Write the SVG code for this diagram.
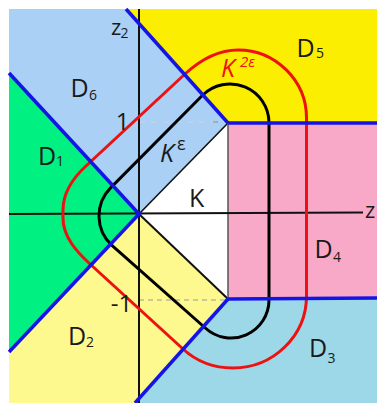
<svg xmlns="http://www.w3.org/2000/svg" width="377" height="403" viewBox="0 0 377 403">
<style>
.lbl{font-family:"Open Sans","Noto Sans",sans-serif;font-size:25px;fill:#1a1a1a}
.sub{font-size:14px}
.it{font-style:italic}
.blue{stroke:#1414e6;stroke-width:3.5;fill:none;stroke-linecap:butt}
.axis{stroke:#111;stroke-width:2;fill:none}
</style>
<rect x="0" y="0" width="377" height="403" fill="#ffffff"/>
<g id="regions">
<polygon id="D6" points="9,9 126,9 228,123 139,214 9,73" fill="#aad0f6"/>
<polygon id="D5" points="126,9 377,9 377,123 228,123" fill="#fcee00"/>
<polygon id="D4" points="228,123 377,123 377,298 228,299" fill="#f9a9c8"/>
<polygon id="D3" points="228,299 377,298 377,403 135,403" fill="#9dd8e8"/>
<polygon id="D2" points="139,214 228,299 135,403 9,403 9,352" fill="#fdf98e"/>
<polygon id="D1" points="9,73 139,214 9,352" fill="#00f082"/>
<polygon id="K" points="139,214 228,123 228,299" fill="#ffffff"/>
</g>
<g id="guides">
<line x1="139" y1="122" x2="226" y2="122" stroke="#d4d4d4" stroke-width="1" stroke-dasharray="6,6"/>
<line x1="213" y1="122" x2="218" y2="122" stroke="#888" stroke-width="1"/>
<line x1="139" y1="300" x2="228" y2="300" stroke="#9a9a9a" stroke-width="1" stroke-dasharray="5,4"/>
</g>
<g id="triangle-edges">
<line x1="139" y1="214" x2="228" y2="123" stroke="#111" stroke-width="1.6"/>
<line x1="139" y1="214" x2="228" y2="299" stroke="#111" stroke-width="2"/>
<line x1="228" y1="123" x2="228" y2="299" stroke="#555" stroke-width="1.5"/>
</g>
<g id="axes">
<line class="axis" x1="139" y1="9" x2="139" y2="403"/>
<line class="axis" x1="9" y1="214" x2="363" y2="212.5"/>
</g>
<g id="connectors">
<path id="Keps" d="M 110.8 187.6 L 202.3 95.5 A 39 39 0 0 1 269 123 L 269 300 A 38 38 0 0 1 205.3 328 L 111.9 245.4 A 40 40 0 0 1 110.8 187.6 Z" fill="none" stroke="#000" stroke-width="3"/>
<path id="K2eps" d="M 86 166 L 185 74 C 199.7 60.5 218 50 238 50 C 275.5 50 306.5 80.5 306.5 118 L 306.5 296 C 306.5 336 273 368 233 368 C 214.5 368 196.6 361.5 183 349 L 90 264 C 76.3 251.4 63 236.6 63 218 L 63 210 C 63 192.7 73.3 177.7 86 166 Z" fill="none" stroke="#ee1111" stroke-width="3"/>
<line class="blue" x1="9" y1="73" x2="139" y2="214"/>
<line class="blue" x1="139" y1="214" x2="9" y2="352"/>
<line class="blue" x1="126" y1="9" x2="228" y2="123"/>
<line class="blue" x1="228" y1="123" x2="377" y2="123"/>
<line class="blue" x1="228" y1="299" x2="377" y2="298"/>
<line class="blue" x1="228" y1="299" x2="135" y2="403"/>
<line x1="137" y1="215" x2="141" y2="213" stroke="#1414e6" stroke-width="3"/>
</g>
<g id="labels">
<g id="n-D6"><text class="lbl" x="70.5" y="97">D<tspan class="sub" x="89" y="100">6</tspan></text></g>
<g id="n-D1"><text class="lbl" x="38" y="165">D<tspan class="sub" x="56" y="166">1</tspan></text></g>
<g id="n-D5"><text class="lbl" x="296.5" y="57">D<tspan class="sub" x="316" y="58">5</tspan></text></g>
<g id="n-D4"><text class="lbl" x="314.5" y="258">D<tspan class="sub" x="333" y="262">4</tspan></text></g>
<g id="n-D3"><text class="lbl" x="309" y="357">D<tspan class="sub" x="327.5" y="363">3</tspan></text></g>
<g id="n-D2"><text class="lbl" x="68" y="345">D<tspan class="sub" x="86" y="347">2</tspan></text></g>
<g id="n-K"><text class="lbl" x="189" y="207">K</text></g>
<g id="n-Keps"><text class="lbl it" x="160" y="161.5" font-size="26">K<tspan x="177" y="150" font-size="18" font-style="normal">ε</tspan></text></g>
<g id="n-K2eps"><text class="lbl it" x="221" y="77" font-size="26" fill="#ee1111" style="fill:#ee1111">K<tspan x="240" y="67" font-size="15">2ε</tspan></text></g>
<g id="axis-labels">
<text class="lbl" x="111" y="35" font-size="22" style="font-size:22px">z<tspan class="sub" x="120.5" y="38">2</tspan></text>
<text class="lbl" x="365" y="217.5" style="font-size:22px">z</text>
<text class="lbl" x="115.7" y="130" style="font-size:24px">1</text>
<text class="lbl" x="110.8" y="311.7" style="font-size:24px">-1</text>
</g>
</g>
</svg>
